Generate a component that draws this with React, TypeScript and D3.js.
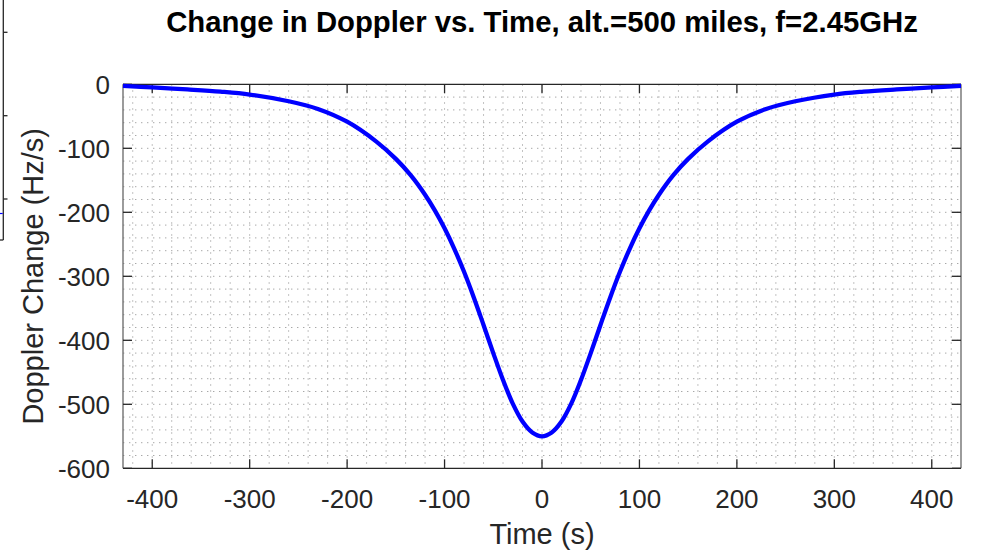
import React from "react";
import * as d3 from "d3";

const times = [-430, -400, -364, -330, -300, -260, -230, -200, -170, -150, -135, -120, -110, -100, -90, -80, -70, -60, -50, -40, -30, -20, -10, 0, 10, 20, 30, 40, 50, 60, 70, 80, 90, 100, 110, 120, 135, 150, 170, 200, 230, 260, 300, 330, 364, 400, 430];
const doppler = [-2.5, -4.8, -8, -11.5, -16, -26.5, -38.5, -58.5, -89.5, -116.5, -141.5, -172.5, -197, -225, -257, -293, -333, -376, -420, -462, -499, -527, -544, -550, -544, -527, -499, -462, -420, -376, -333, -293, -257, -225, -197, -172.5, -141.5, -116.5, -89.5, -58.5, -38.5, -26.5, -16, -11.5, -8, -4.8, -2.5];
const xTicks = [-400, -300, -200, -100, 0, 100, 200, 300, 400];
const yTicks = [0, -100, -200, -300, -400, -500, -600];

const W = 986, H = 553;
const L = 123, R = 961, T = 84.3, B = 468.3;
const FONT = "'Liberation Sans', Arial, Helvetica, sans-serif";

export default function App() {
  const x = d3.scaleLinear().domain([-430, 430]).range([L, R]);
  const y = d3.scaleLinear().domain([-600, 0]).range([B, T]);
  const pts = times.map((t, i) => [t, doppler[i]] as [number, number]);
  const line = d3.line<[number, number]>().x(d => x(d[0])).y(d => y(d[1])).curve(d3.curveCatmullRom.alpha(0.5));
  const minorX = d3.range(-420, 431, 20);
  const minorY = d3.range(-580, 0, 20);
  const axisC = "#262626";
  const tl = 9;
  return (
    <svg width={W} height={H} style={{ position: "absolute", left: 0, top: 0, background: "#fff" }}>
      <rect x={0} y={0} width={W} height={H} fill="#fff" />
      {/* stray neighbouring axes at the left edge */}
      <g stroke={axisC} strokeWidth={1.3} fill="none">
        <line x1={3.3} y1={0} x2={3.3} y2={240} />
        <line x1={0} y1={240} x2={3.3} y2={240} />
        {[32.3, 115.7, 199].map(v => <line key={v} x1={3.3} y1={v} x2={7.5} y2={v} />)}
      </g>
      <line x1={0} y1={213.5} x2={2.7} y2={213.5} stroke="#0000ff" strokeWidth={1.2} />

      {/* minor grid */}
      <g stroke="#a8a8a8" strokeWidth={1} strokeDasharray="1.4 4.6" fill="none">
        {minorX.map(v => <line key={"gx" + v} x1={x(v)} y1={T} x2={x(v)} y2={B} />)}
        {minorY.map(v => <line key={"gy" + v} x1={L} y1={y(v)} x2={R} y2={y(v)} />)}
      </g>

      {/* box */}
      <line x1={L} y1={T} x2={R} y2={T} stroke={axisC} strokeWidth={1.3} />
      <line x1={L} y1={B} x2={R} y2={B} stroke={axisC} strokeWidth={1.3} />
      <line x1={L} y1={T} x2={L} y2={B} stroke="#666" strokeWidth={1.3} />
      <line x1={R} y1={T} x2={R} y2={B} stroke="#666" strokeWidth={1.3} />

      {/* ticks */}
      <g stroke={axisC} strokeWidth={1.3}>
        {xTicks.map(v => (
          <g key={"xt" + v}>
            <line x1={x(v)} y1={B} x2={x(v)} y2={B - tl} />
            <line x1={x(v)} y1={T} x2={x(v)} y2={T + tl} />
          </g>
        ))}
        {yTicks.map(v => (
          <g key={"yt" + v}>
            <line x1={L} y1={y(v)} x2={L + tl} y2={y(v)} />
            <line x1={R} y1={y(v)} x2={R - tl} y2={y(v)} />
          </g>
        ))}
      </g>

      {/* curve */}
      <path d={line(pts) ?? ""} fill="none" stroke="#0000ff" strokeWidth={4.3} strokeLinejoin="round" />

      {/* tick labels */}
      <g fontFamily={FONT} fontSize={26} fill={axisC}>
        {xTicks.map(v => (
          <text key={"xl" + v} x={x(v)} y={508} textAnchor="middle">{v}</text>
        ))}
        {yTicks.map(v => (
          <text key={"yl" + v} x={110} y={y(v) + 10} textAnchor="end">{v}</text>
        ))}
      </g>

      {/* axis labels */}
      <text x={(L + R) / 2} y={543.5} textAnchor="middle" fontFamily={FONT} fontSize={29} fill={axisC}>Time (s)</text>
      <text transform={`translate(43, ${(T + B) / 2}) rotate(-90)`} textAnchor="middle" fontFamily={FONT} fontSize={29} fill={axisC}>Doppler Change (Hz/s)</text>

      {/* title */}
      <text x={(L + R) / 2} y={32} textAnchor="middle" fontFamily={FONT} fontSize={29.3} fontWeight="bold" fill="#000">Change in Doppler vs. Time, alt.=500 miles, f=2.45GHz</text>
    </svg>
  );
}
